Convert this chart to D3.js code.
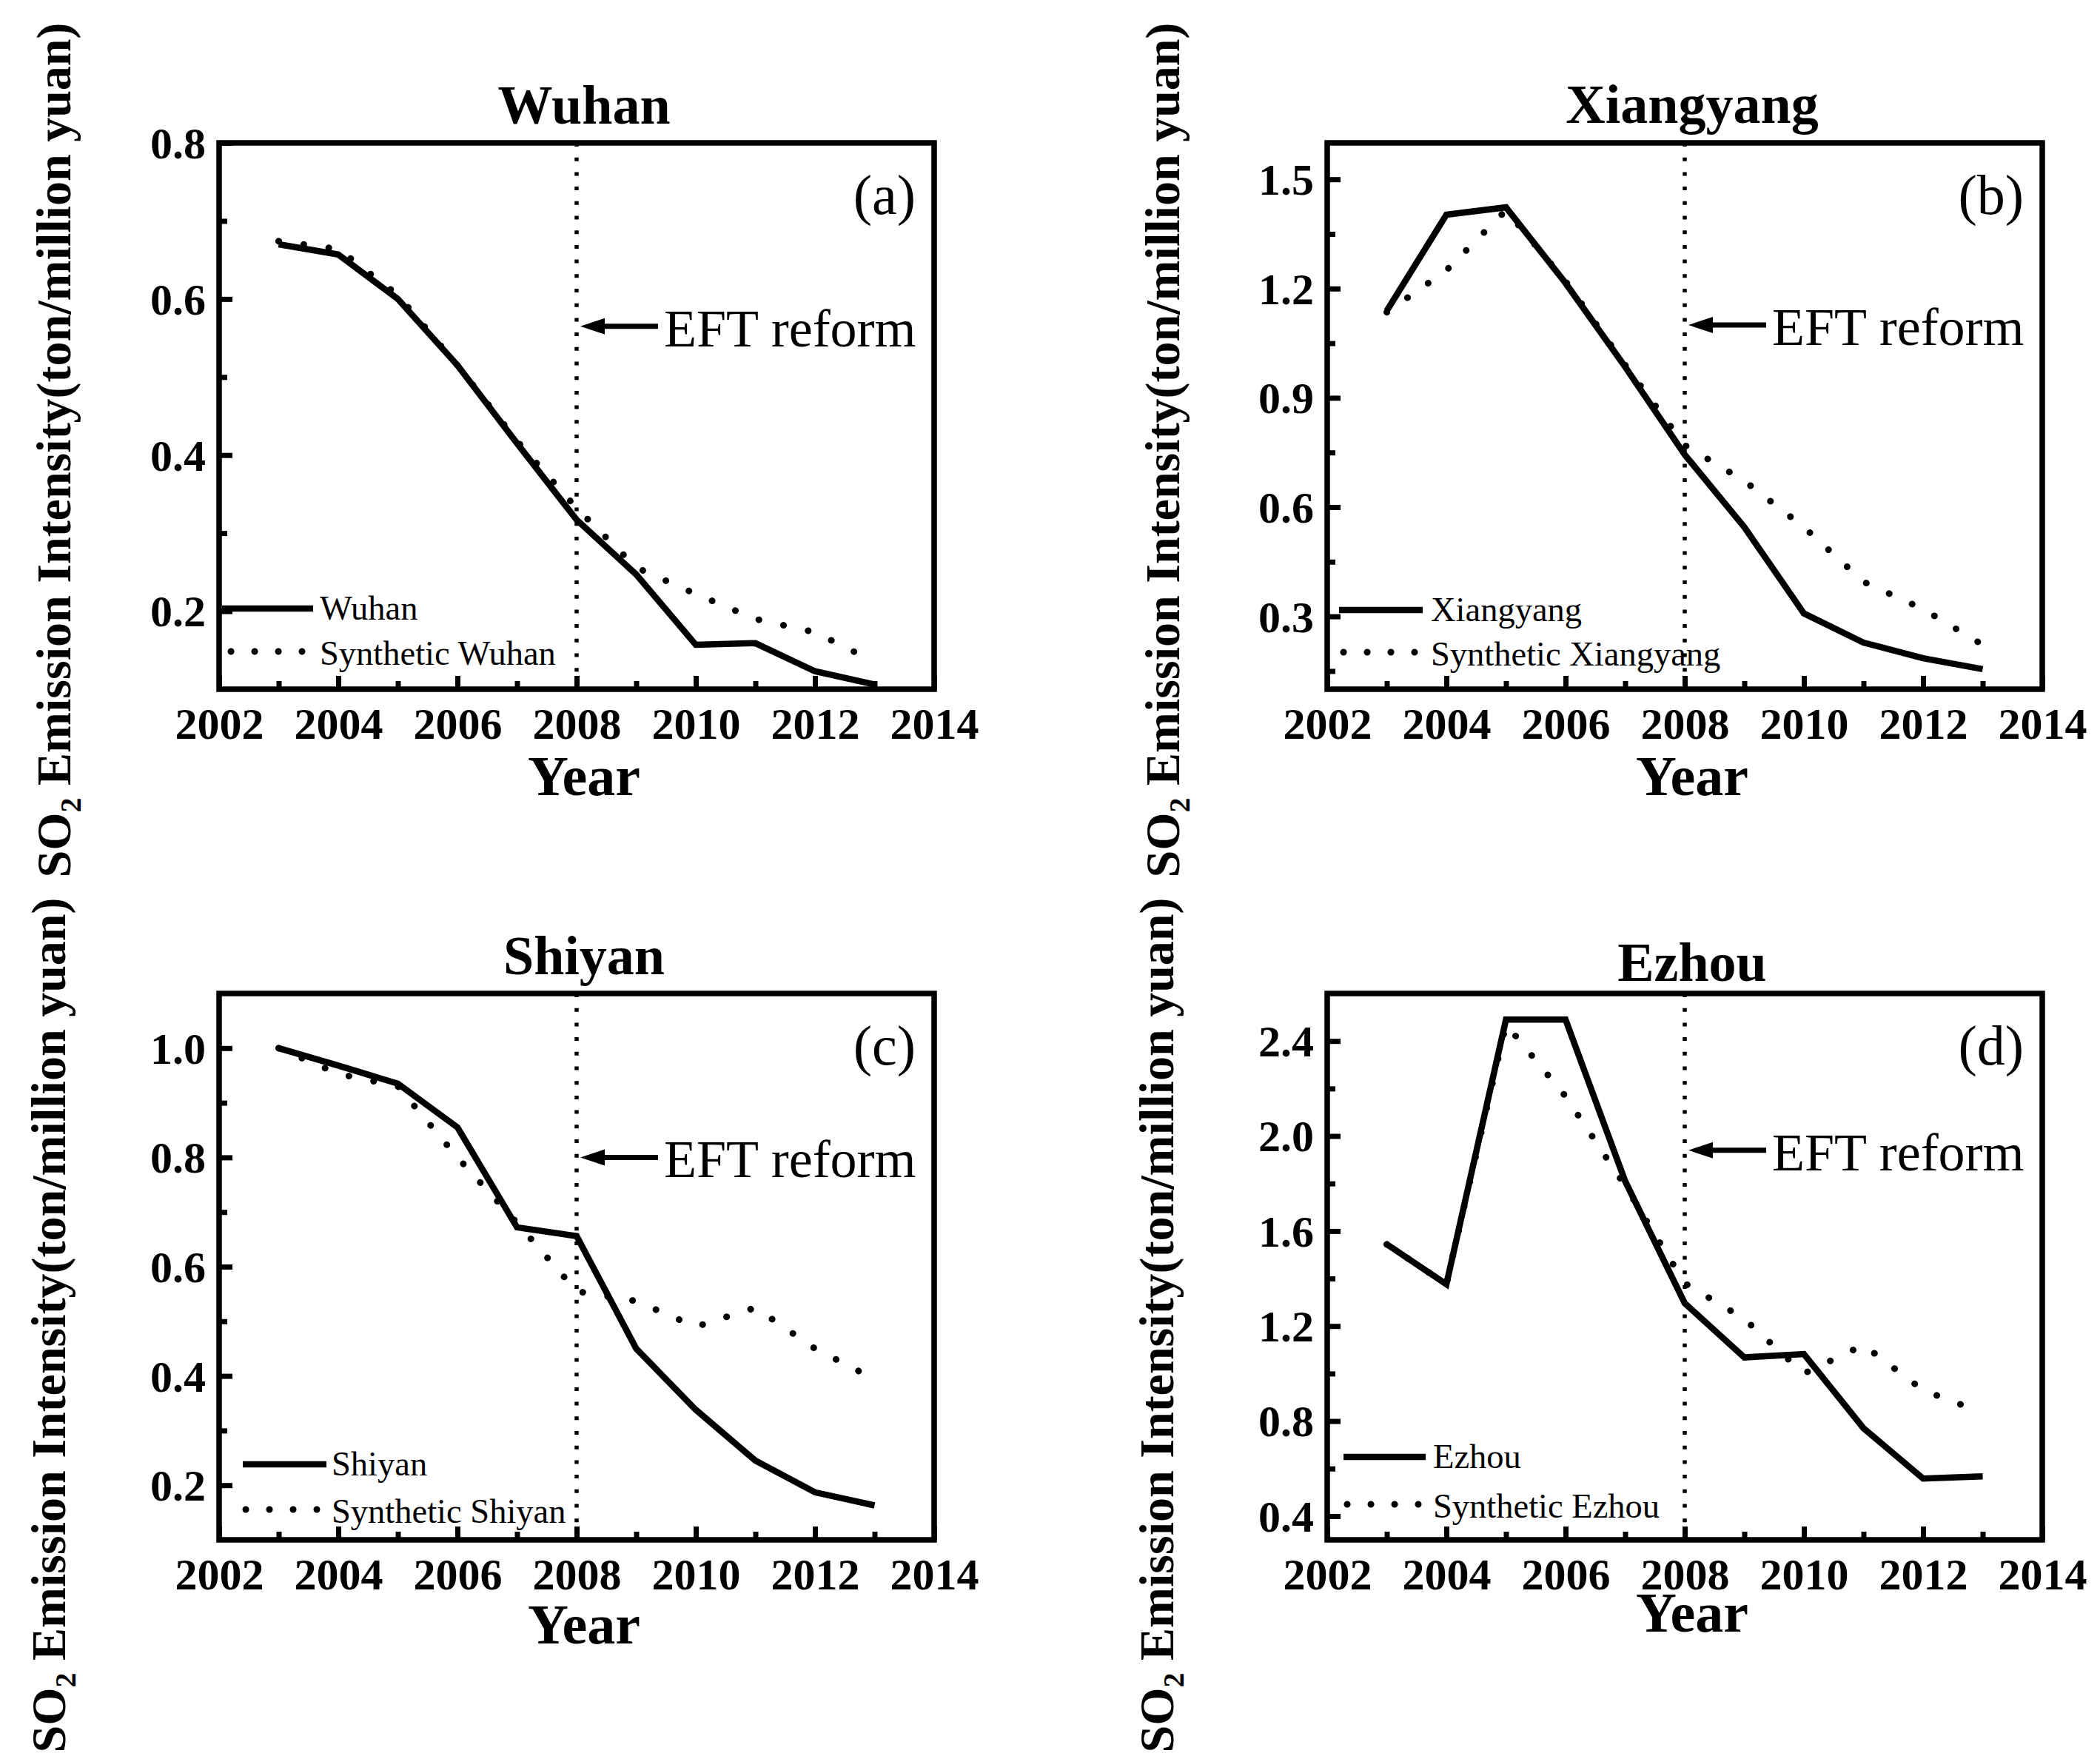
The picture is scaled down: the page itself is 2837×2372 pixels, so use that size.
<!DOCTYPE html>
<html><head><meta charset="utf-8">
<script src="https://cdn.jsdelivr.net/npm/d3@7"></script>
<style>html,body{margin:0;padding:0;background:#fff;} svg{display:block;} text{white-space:pre;}</style>
</head><body>
<svg id="chart" width="2837" height="2372"></svg>
<script>
// ---------- data ----------
const years = [2003, 2004, 2005, 2006, 2007, 2008, 2009, 2010, 2011, 2012, 2013];
const wuhan        = [0.670, 0.657, 0.600, 0.515, 0.415, 0.317, 0.247, 0.157, 0.159, 0.123, 0.106];
const wuhanSyn     = [0.674, 0.664, 0.605, 0.515, 0.418, 0.332, 0.256, 0.222, 0.190, 0.173, 0.135];
const xiangyang    = [1.139, 1.403, 1.423, 1.215, 0.985, 0.744, 0.545, 0.308, 0.228, 0.185, 0.155];
const xiangyangSyn = [1.135, 1.250, 1.415, 1.220, 0.990, 0.770, 0.672, 0.545, 0.395, 0.320, 0.222];
const shiyan       = [1.000, 0.968, 0.935, 0.855, 0.672, 0.656, 0.450, 0.338, 0.245, 0.187, 0.163];
const shiyanSyn    = [1.000, 0.953, 0.930, 0.800, 0.680, 0.555, 0.537, 0.490, 0.525, 0.450, 0.394];
const ezhou        = [1.544, 1.376, 2.490, 2.490, 1.810, 1.296, 1.068, 1.082, 0.770, 0.558, 0.567];
const ezhouSyn     = [1.544, 1.376, 2.470, 2.167, 1.790, 1.380, 1.230, 1.000, 1.120, 0.930, 0.835];

const cityNames = ["Wuhan", "Xiangyang", "Shiyan", "Ezhou"];
const panelLetters = ["(a)", "(b)", "(c)", "(d)"];
const actualSeries = [wuhan, xiangyang, shiyan, ezhou];
const syntheticSeries = [wuhanSyn, xiangyangSyn, shiyanSyn, ezhouSyn];

const xDomain = [2002, 2014];
const xTicks = [2002, 2004, 2006, 2008, 2010, 2012, 2014];
const xMinorTicks = [2003, 2005, 2007, 2009, 2011, 2013];
const yDomains = [[0.1, 0.8], [0.1, 1.6], [0.1, 1.1], [0.3, 2.6]];
const yTicks = [[0.2, 0.4, 0.6, 0.8], [0.3, 0.6, 0.9, 1.2, 1.5], [0.2, 0.4, 0.6, 0.8, 1.0], [0.4, 0.8, 1.2, 1.6, 2.0, 2.4]];
const yMinorTicks = [[0.3, 0.5, 0.7], [0.15, 0.45, 0.75, 1.05, 1.35], [0.3, 0.5, 0.7, 0.9], [0.6, 1.0, 1.4, 1.8, 2.2]];
const reformYear = 2008;
const reformLabel = "EFT reform";
const arrowValues = [0.565, 1.1, 0.80, 1.94];
const xAxisTitle = "Year";

// ---------- layout ----------
const panels = [
  {left: 296,  right: 1262, top: 193,  bottom: 931,  titleY: 167,  yearY: 1074, ylabX: 95,   ylabY: 608,
   leg: {x1: 300,  x2: 423,  y1: 822,  y2: 880,  tx: 432,  dot0: 312}},
  {left: 1793, right: 2759, top: 193,  bottom: 931,  titleY: 166,  yearY: 1074, ylabX: 1593, ylabY: 608,
   leg: {x1: 1809, x2: 1922, y1: 824,  y2: 881,  tx: 1933, dot0: 1815}},
  {left: 296,  right: 1262, top: 1342, bottom: 2080, titleY: 1316, yearY: 2220, ylabX: 88,   ylabY: 1790,
   leg: {x1: 328,  x2: 441,  y1: 1978, y2: 2039, tx: 448,  dot0: 332}},
  {left: 1793, right: 2759, top: 1342, bottom: 2080, titleY: 1325, yearY: 2204, ylabX: 1585, ylabY: 1790,
   leg: {x1: 1815, x2: 1926, y1: 1968, y2: 2032, tx: 1936, dot0: 1820}}
];

const FONT = "'Liberation Serif', 'Times New Roman', Times, serif";
const svg = d3.select("#chart");
svg.append("rect").attr("width", 2837).attr("height", 2372).attr("fill", "#fff");
const fmt = d3.format(".1f");

panels.forEach((p, i) => {
  const g = svg.append("g");
  const x = d3.scaleLinear().domain(xDomain).range([p.left, p.right]);
  const y = d3.scaleLinear().domain(yDomains[i]).range([p.bottom, p.top]);

  // title
  g.append("text").attr("x", (p.left + p.right) / 2 + 10).attr("y", p.titleY)
    .attr("text-anchor", "middle").attr("font-family", FONT).attr("font-weight", "bold")
    .attr("font-size", 74).text(cityNames[i]);

  // reform vertical line
  g.append("line").attr("x1", x(reformYear)).attr("x2", x(reformYear))
    .attr("y1", p.top).attr("y2", p.bottom)
    .attr("stroke", "#000").attr("stroke-width", 5.5).attr("stroke-dasharray", "5,14.7");

  // series
  const line = d3.line().x(d => x(d[0])).y(d => y(d[1]));
  const actualPts = years.map((yr, k) => [yr, actualSeries[i][k]]);
  const synPts = years.map((yr, k) => [yr, syntheticSeries[i][k]]);
  g.append("path").attr("d", line(synPts)).attr("fill", "none").attr("stroke", "#000")
    .attr("stroke-width", 9).attr("stroke-linecap", "round").attr("stroke-dasharray", "0.1,34");
  g.append("path").attr("d", line(actualPts)).attr("fill", "none").attr("stroke", "#000")
    .attr("stroke-width", 8.5).attr("stroke-linejoin", "miter");

  // axes (inward ticks) using d3 axis generators
  const xAxisMajor = d3.axisBottom(x).tickValues(xTicks).tickSize(-18).tickFormat(d3.format("d"));
  const xAxisMinor = d3.axisBottom(x).tickValues(xMinorTicks).tickSize(-11).tickFormat("");
  const yAxisMajor = d3.axisLeft(y).tickValues(yTicks[i]).tickSize(-18).tickFormat(fmt);
  const yAxisMinor = d3.axisLeft(y).tickValues(yMinorTicks[i]).tickSize(-11).tickFormat("");

  const styleAxis = (sel) => {
    sel.select(".domain").remove();
    sel.selectAll(".tick line").attr("stroke", "#000").attr("stroke-width", 7);
    sel.selectAll(".tick text").attr("font-family", FONT).attr("font-weight", "bold")
      .attr("font-size", 60).attr("fill", "#000");
  };
  g.append("g").attr("transform", `translate(0,${p.bottom})`).call(xAxisMajor).call(styleAxis)
    .selectAll(".tick text").attr("dy", "0.71em").attr("y", 24);
  g.append("g").attr("transform", `translate(0,${p.bottom})`).call(xAxisMinor).call(styleAxis);
  g.append("g").attr("transform", `translate(${p.left},0)`).call(yAxisMajor).call(styleAxis)
    .selectAll(".tick text").attr("x", -18).attr("dy", "0.34em");
  g.append("g").attr("transform", `translate(${p.left},0)`).call(yAxisMinor).call(styleAxis);

  // frame
  g.append("rect").attr("x", p.left).attr("y", p.top)
    .attr("width", p.right - p.left).attr("height", p.bottom - p.top)
    .attr("fill", "none").attr("stroke", "#000").attr("stroke-width", 7.5);

  // panel letter
  g.append("text").attr("x", p.right - 25).attr("y", p.top + 96).attr("text-anchor", "end")
    .attr("font-family", FONT).attr("font-size", 76).text(panelLetters[i]);

  // EFT reform arrow
  const ax = x(reformYear), ay = y(arrowValues[i]);
  g.append("line").attr("x1", ax + 30).attr("x2", ax + 110).attr("y1", ay).attr("y2", ay)
    .attr("stroke", "#000").attr("stroke-width", 7);
  g.append("path").attr("d", `M${ax + 5},${ay} L${ax + 38},${ay - 11} L${ax + 38},${ay + 11} Z`)
    .attr("fill", "#000");
  g.append("text").attr("x", ax + 118).attr("y", ay + 27)
    .attr("font-family", FONT).attr("font-size", 72).text(reformLabel);

  // legend
  const L = p.leg;
  g.append("line").attr("x1", L.x1).attr("x2", L.x2).attr("y1", L.y1).attr("y2", L.y1)
    .attr("stroke", "#000").attr("stroke-width", 8.5);
  g.append("line").attr("x1", L.dot0).attr("x2", L.dot0 + 96).attr("y1", L.y2).attr("y2", L.y2)
    .attr("stroke", "#000").attr("stroke-width", 9).attr("stroke-linecap", "round")
    .attr("stroke-dasharray", "0.1,31.9");
  g.append("text").attr("x", L.tx).attr("y", L.y1 + 15).attr("font-family", FONT)
    .attr("font-size", 46.5).text(cityNames[i]);
  g.append("text").attr("x", L.tx).attr("y", L.y2 + 18).attr("font-family", FONT)
    .attr("font-size", 46.5).text("Synthetic " + cityNames[i]);

  // x axis title
  g.append("text").attr("x", (p.left + p.right) / 2 + 10).attr("y", p.yearY)
    .attr("text-anchor", "middle").attr("font-family", FONT).attr("font-weight", "bold")
    .attr("font-size", 76).text(xAxisTitle);

  // y axis title
  const yt = g.append("text").attr("transform", `translate(${p.ylabX},${p.ylabY}) rotate(-90)`)
    .attr("text-anchor", "middle").attr("font-family", FONT).attr("font-weight", "bold")
    .attr("font-size", 66);
  yt.append("tspan").text("SO");
  yt.append("tspan").attr("font-size", 40).attr("dy", 14).text("2");
  yt.append("tspan").attr("dy", -14).text(" Emission Intensity(ton/million yuan)");
});
</script>
</body></html>
